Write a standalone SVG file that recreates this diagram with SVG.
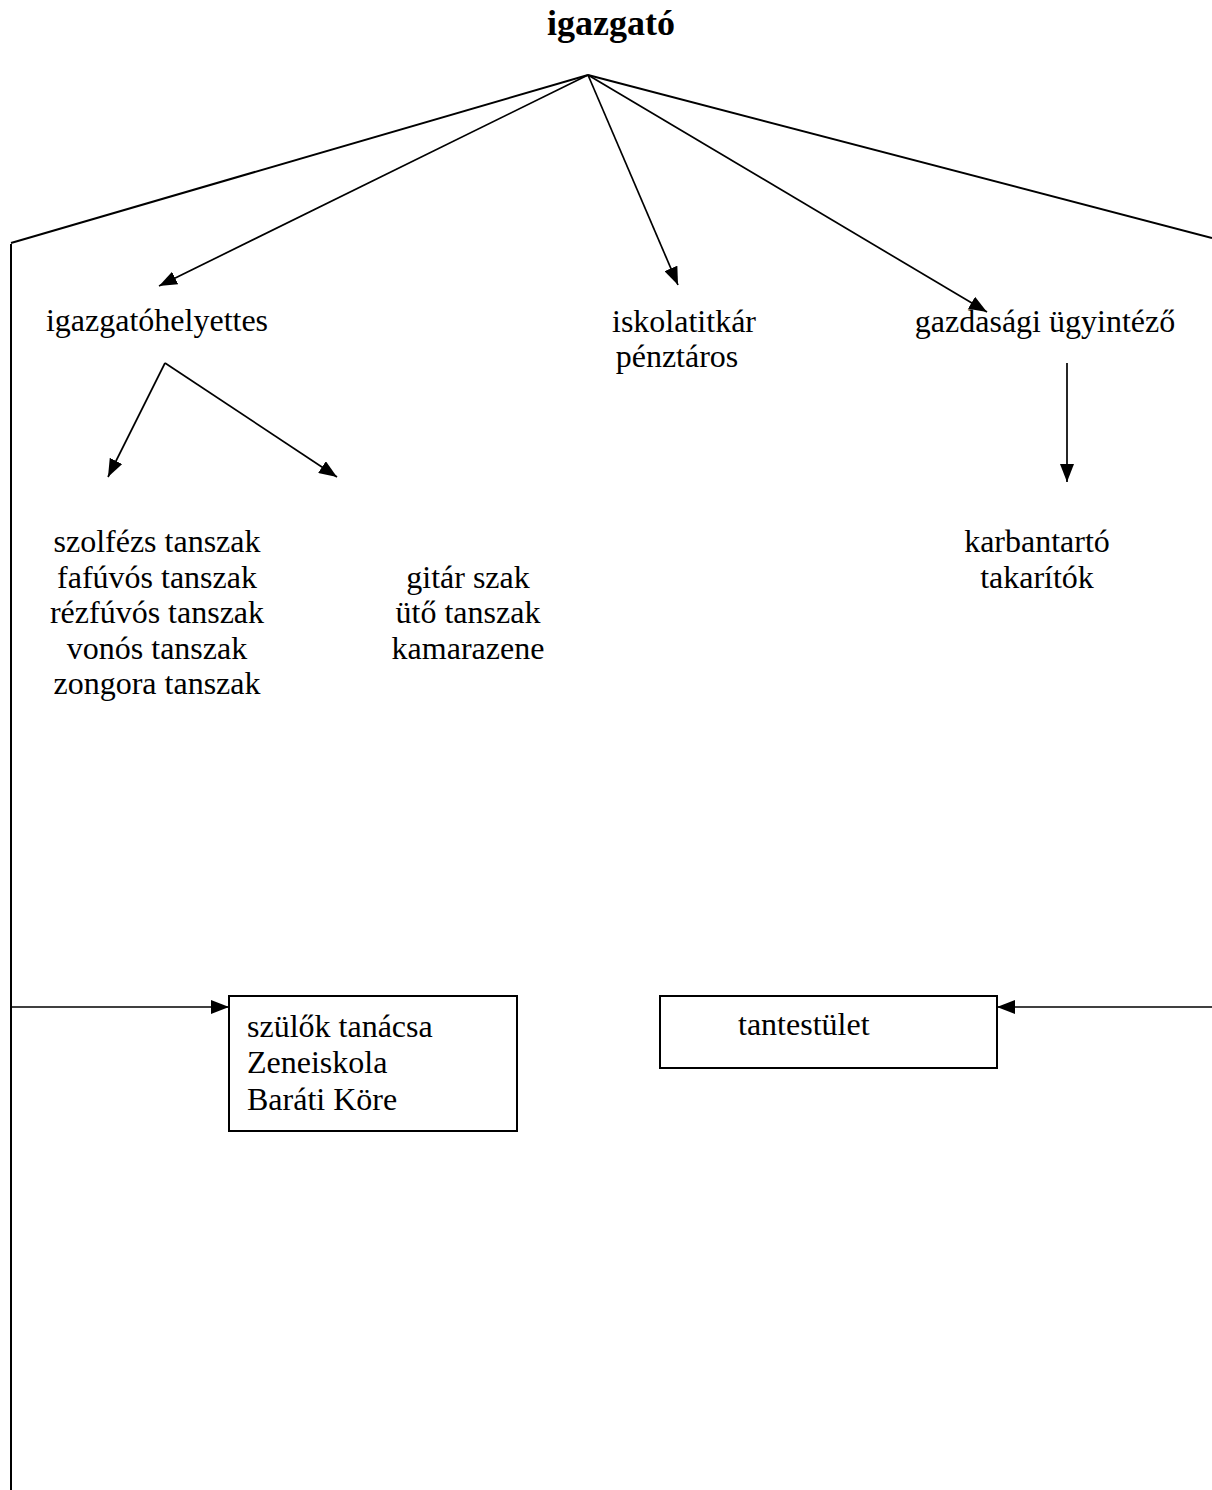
<svg xmlns="http://www.w3.org/2000/svg" width="1212" height="1490" viewBox="0 0 1212 1490">
<style>
  text { font-family: "Liberation Serif", "Times New Roman", serif; font-size: 32px; fill: #000; }
  .c { text-anchor: middle; }
  .title { font-weight: bold; font-size: 36px; }
  .ln { stroke: #000; stroke-width: 2; fill: none; }
  .ar { stroke: #000; stroke-width: 1.7; fill: none; marker-end: url(#ah); }
  .box { stroke: #000; stroke-width: 2; fill: #fff; }
</style>
<defs>
  <marker id="ah" viewBox="0 0 18 14" refX="18" refY="7" markerWidth="18" markerHeight="14" orient="auto" markerUnits="userSpaceOnUse">
    <path d="M0,0 L18,7 L0,14 z" fill="#000"/>
  </marker>
</defs>
<rect width="1212" height="1490" fill="#fff"/>
<g id="connectors">
  <line class="ln" x1="588" y1="75" x2="11" y2="243"/>
  <line class="ln" x1="11" y1="244" x2="11" y2="1490"/>
  <line class="ln" x1="588" y1="75" x2="1212" y2="238"/>
  <line class="ar" x1="588" y1="75" x2="159" y2="286"/>
  <line class="ar" x1="588" y1="75" x2="678" y2="285"/>
  <line class="ar" x1="588" y1="75" x2="987" y2="312"/>
  <line class="ar" x1="165" y1="363" x2="108" y2="477"/>
  <line class="ar" x1="165" y1="363" x2="337" y2="477"/>
  <line class="ar" x1="1067" y1="363" x2="1067" y2="482"/>
  <line class="ar" x1="11" y1="1007" x2="229" y2="1007"/>
  <line class="ar" x1="1212" y1="1007" x2="997" y2="1007"/>
</g>
<g id="igazgato"><text class="title c" x="611" y="35">igazgató</text></g>
<g id="igazgatohelyettes"><text class="c" x="157" y="331">igazgatóhelyettes</text></g>
<g id="iskolatitkar">
  <text class="c" x="684" y="332">iskolatitkár</text>
  <text class="c" x="677" y="367">pénztáros</text>
</g>
<g id="gazdasagi"><text class="c" x="1045" y="332">gazdasági ügyintéző</text></g>
<g id="tanszakok">
  <text class="c" x="157" y="552">szolfézs tanszak</text>
  <text class="c" x="157" y="588">fafúvós tanszak</text>
  <text class="c" x="157" y="623">rézfúvós tanszak</text>
  <text class="c" x="157" y="659">vonós tanszak</text>
  <text class="c" x="157" y="694">zongora tanszak</text>
</g>
<g id="gitar">
  <text class="c" x="468" y="588">gitár szak</text>
  <text class="c" x="468" y="623">ütő tanszak</text>
  <text class="c" x="468" y="659">kamarazene</text>
</g>
<g id="karbantarto">
  <text class="c" x="1037" y="552">karbantartó</text>
  <text class="c" x="1037" y="588">takarítók</text>
</g>
<g id="szulok">
  <rect class="box" x="229" y="996" width="288" height="135"/>
  <text x="247" y="1037">szülők tanácsa</text>
  <text x="247" y="1073">Zeneiskola</text>
  <text x="247" y="1110">Baráti Köre</text>
</g>
<g id="tantestulet">
  <rect class="box" x="660" y="996" width="337" height="72"/>
  <text x="738" y="1035">tantestület</text>
</g>
</svg>
